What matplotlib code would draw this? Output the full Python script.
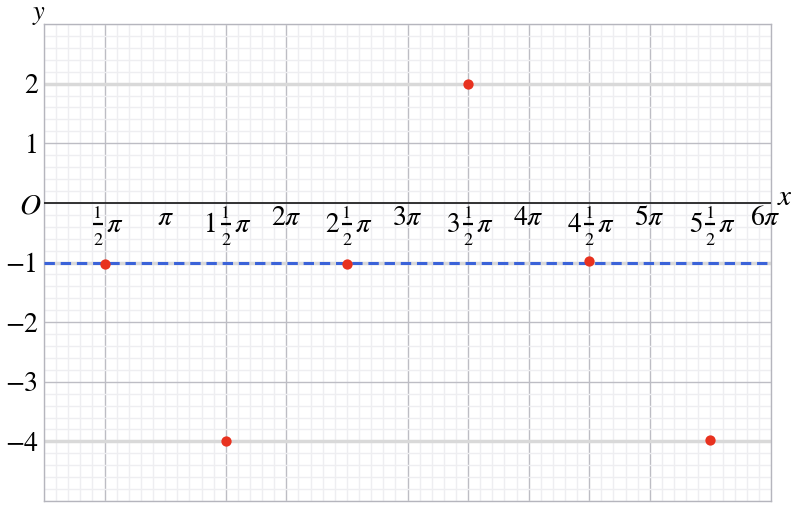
import numpy as np
import matplotlib
matplotlib.use("Agg")
import matplotlib.pyplot as plt

plt.rcParams['mathtext.fontset'] = 'stix'

# data
half_steps = [1, 3, 5, 7, 9, 11]            # x in units of pi/2
point_y = [-1.02, -4.0, -1.02, 2.0, -0.98, -3.97]
dashed_y = -1.0
# x tick labels: (whole part, has one-half fraction) for k*pi/2, k = 1..12
x_label_whole = ["", "", "1", "2", "2", "3", "3", "4", "4", "5", "5", "6"]
x_label_half = [True, False, True, False, True, False, True, False, True, False, True, False]
y_ticks = [-4, -3, -2, -1, 1, 2]
y_tick_labels = ["\u22124", "\u22123", "\u22122", "\u22121", "1", "2"]

W, H = 800, 512
fig = plt.figure(figsize=(W/100, H/100), dpi=100)
ax_l, ax_r, ax_t, ax_b = 44, 771, 24, 501
ax = fig.add_axes([ax_l/W, (H-ax_b)/H, (ax_r-ax_l)/W, (ax_b-ax_t)/H])
xmax = 6*np.pi
ax.set_xlim(0, xmax)
ax.set_ylim(-5, 3)
pxx = (ax_r-ax_l)/xmax      # pixels per x unit
pxy = (ax_b-ax_t)/8.0       # pixels per y unit
def dx(p): return p/pxx
def dy(p): return p/pxy

# grid
major_x = [k*np.pi/2 for k in [1, 3, 4, 6, 7, 8, 9, 10]]
ax.set_xticks(major_x)
ax.set_xticks(np.arange(0, xmax + 1e-9, np.pi/10), minor=True)
ax.set_yticks(y_ticks)
ax.set_yticks(np.arange(-5, 3.001, 0.2), minor=True)
ax.grid(which='minor', color='#eeeef1', lw=1.0)
ax.grid(which='major', color='#bdbdc4', lw=1.0)
for yv, gl in zip(y_ticks, ax.get_ygridlines()):
    if yv in (2, -1, -4):
        gl.set_color('#d9d9d9')
        gl.set_linewidth(2.5)
ax.set_axisbelow(True)
ax.tick_params(which='both', length=0)
ax.set_xticklabels([])
ax.set_yticklabels(y_tick_labels, fontsize=20, family='STIXGeneral')
ax.tick_params(axis='y', pad=4)
for s in ax.spines.values():
    s.set_color('#b5b5bd')
    s.set_linewidth(1.0)

# x axis line
ax.axhline(0, color='#222222', lw=1.3, zorder=3)

# dashed line
ax.axhline(dashed_y, color='#3b63d9', lw=2.2, dashes=[3.4, 1.9], zorder=4)

# points
xs = [k*np.pi/2 for k in half_steps]
ax.scatter(xs, point_y, s=55, color='#e8321f', zorder=5, linewidths=0)

# x labels
for k, (whole, half) in enumerate(zip(x_label_whole, x_label_half), start=1):
    x0 = k*np.pi/2
    if half:
        fc = x0 if whole else x0 - dx(7)
        base = -dy(29)
        if whole:
            ax.text(fc - dx(8), base, whole, ha='right', va='baseline', fontsize=19.5,
                    family='STIXGeneral', zorder=6)
        ax.text(fc, -dy(15), "1", ha='center', va='baseline', fontsize=13,
                family='STIXGeneral', zorder=6)
        ax.text(fc, -dy(42), "2", ha='center', va='baseline', fontsize=13,
                family='STIXGeneral', zorder=6)
        ax.plot([fc - dx(5), fc + dx(5)], [-dy(21.5), -dy(21.5)], color='black',
                lw=1.6, solid_capstyle='butt', zorder=6)
        ax.text(fc + dx(8), base, r"$\pi$", ha='left', va='baseline', fontsize=20.5, zorder=6)
    else:
        xc = x0 - dx(6) if k == 12 else x0
        lab = r"$\pi$" if whole == "" else "$" + whole + r"\pi$"
        ax.text(xc, -dy(22), lab, ha='center', va='baseline', fontsize=20, zorder=6)

ax.text(-dx(3), -dy(3), r"$O$", ha='right', va='center', fontsize=21, clip_on=False)
ax.text(xmax + dx(14), -dy(2), r"$x$", ha='center', va='baseline', fontsize=21, clip_on=False)
ax.text(-dx(5), 3 + dy(5), r"$y$", ha='center', va='baseline', fontsize=19, clip_on=False)

fig.savefig("out.png", dpi=100)
